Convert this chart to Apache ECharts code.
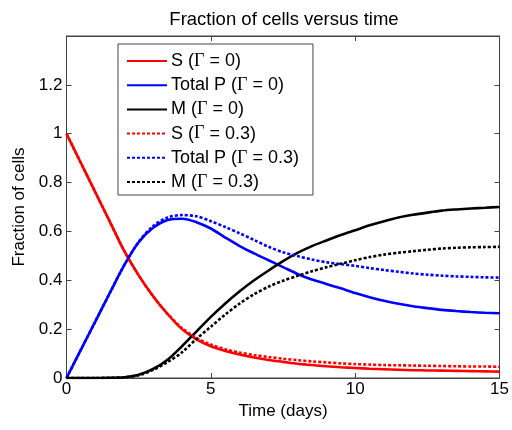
<!DOCTYPE html>
<html>
<head>
<meta charset="utf-8">
<script src="https://cdn.jsdelivr.net/npm/echarts@6/dist/echarts.min.js"></script>
<style>html,body{margin:0;padding:0;background:#fff}#c{width:512px;height:430px}</style>
</head>
<body>
<div id="c"></div>
<script>
var times = [0,0.5,1,1.5,2,2.5,3,3.5,4,4.5,5,5.5,6,6.5,7,7.5,8,8.5,9,9.5,10,10.5,11,11.5,12,12.5,13,13.5,14,14.5,15];
var S_g0 = [1.00,0.88,0.76,0.64,0.52,0.42,0.335,0.262,0.200,0.158,0.130,0.111,0.096,0.084,0.074,0.066,0.058,0.053,0.048,0.044,0.041,0.038,0.036,0.034,0.032,0.031,0.030,0.029,0.028,0.027,0.026];
var P_g0 = [0,0.116,0.232,0.348,0.462,0.556,0.615,0.647,0.652,0.638,0.612,0.575,0.540,0.510,0.482,0.454,0.426,0.403,0.385,0.367,0.348,0.331,0.316,0.304,0.294,0.286,0.279,0.274,0.270,0.267,0.265];
var M_g0 = [0,0,0,0.001,0.003,0.013,0.037,0.075,0.13,0.19,0.25,0.305,0.355,0.40,0.44,0.478,0.512,0.54,0.563,0.585,0.605,0.625,0.642,0.657,0.668,0.677,0.685,0.690,0.694,0.697,0.700];
var S_g3 = [1.00,0.88,0.76,0.64,0.52,0.42,0.335,0.263,0.204,0.164,0.137,0.118,0.104,0.094,0.086,0.079,0.073,0.068,0.064,0.060,0.057,0.055,0.053,0.052,0.051,0.050,0.049,0.048,0.047,0.047,0.046];
var P_g3 = [0,0.116,0.232,0.348,0.462,0.558,0.622,0.657,0.667,0.662,0.642,0.618,0.592,0.565,0.537,0.515,0.499,0.485,0.474,0.466,0.459,0.450,0.442,0.435,0.428,0.423,0.419,0.416,0.414,0.412,0.411];
var M_g3 = [0,0,0,0.001,0.003,0.011,0.033,0.065,0.105,0.160,0.21,0.26,0.305,0.343,0.374,0.398,0.418,0.437,0.453,0.468,0.482,0.495,0.505,0.513,0.519,0.525,0.530,0.533,0.535,0.536,0.537];
var xTicks = [0,5,10,15];
var yTicks = [0,0.2,0.4,0.6,0.8,1,1.2];
var names = ['S (Γ = 0)','Total P (Γ = 0)','M (Γ = 0)','S (Γ = 0.3)','Total P (Γ = 0.3)','M (Γ = 0.3)'];

function pairs(vals){ return times.map(function(t,i){ return [t, vals[i]]; }); }
var FONT = 'Liberation Sans, Arial, sans-serif';
var AX = '#444';
var sets = [S_g0,P_g0,M_g0,S_g3,P_g3,M_g3];
var cols = ['#ff0000','#0000ff','#000000','#ff0000','#0000ff','#000000'];
var series = sets.map(function(v,i){
  return {
    name: names[i], type:'line', data: pairs(v), symbol:'none', smooth:0.3,
    lineStyle:{color:cols[i], width:2.6, type: i<3 ? 'solid' : [3,2]},
    itemStyle:{color:cols[i]}, silent:true, animation:false, z: 2+i
  };
});
var chart = echarts.init(document.getElementById('c'), null, {renderer:'canvas'});
chart.setOption({
  animation:false,
  backgroundColor:'#fff',
  title:{text:'Fraction of cells versus time', left:279, top:5, textAlign:'center',
    textStyle:{fontFamily:FONT, fontSize:18.5, fontWeight:'normal', color:'#000'}},
  grid:{left:66.5, right:10.7, top:36, bottom:52, containLabel:false,
    show:true, borderColor:AX, borderWidth:1, backgroundColor:'transparent'},
  legend:{
    data:names, orient:'vertical', left:118, top:44,
    backgroundColor:'#fff', borderColor:AX, borderWidth:1,
    padding:[8,14,4,8], itemWidth:40, itemHeight:14, itemGap:6.2,
    itemStyle:{opacity:0, borderWidth:0},
    textStyle:{fontFamily:FONT, fontSize:18, color:'#000', lineHeight:18, padding:[0,0,0,-1],
      rich:{g:{fontFamily:'Liberation Serif, Times New Roman, serif', fontSize:18, lineHeight:18}}},
    formatter:function(n){ return n.replace('Γ','{g|Γ}'); }
  },
  xAxis:[{
    type:'value', min:0, max:15, interval:5, position:'bottom',
    name:'Time (days)', nameLocation:'middle', nameGap:22,
    nameTextStyle:{fontFamily:FONT, fontSize:17, color:'#000'},
    axisLine:{show:true, lineStyle:{color:AX, width:1}},
    axisTick:{show:true, inside:true, length:5, lineStyle:{color:AX}},
    axisLabel:{fontFamily:FONT, fontSize:17, color:'#000', margin:3,
      formatter:function(v){ return xTicks.indexOf(v)>=0 ? String(v) : ''; }},
    splitLine:{show:false}
  },{
    type:'value', min:0, max:15, interval:5, position:'top',
    axisLine:{show:true, onZero:false, lineStyle:{color:AX, width:1}},
    axisTick:{show:true, inside:true, length:5, lineStyle:{color:AX}},
    axisLabel:{show:false}, splitLine:{show:false}
  }],
  yAxis:[{
    type:'value', min:0, max:1.4, interval:0.2, position:'left',
    name:'Fraction of cells', nameLocation:'middle', nameGap:38, nameRotate:90,
    nameTextStyle:{fontFamily:FONT, fontSize:17, color:'#000'},
    axisLine:{show:true, lineStyle:{color:AX, width:1}},
    axisTick:{show:true, inside:true, length:5, lineStyle:{color:AX}},
    axisLabel:{fontFamily:FONT, fontSize:17, color:'#000', margin:4,
      formatter:function(v){ var r=Math.round(v*10)/10; return yTicks.indexOf(r)>=0 ? String(r) : ''; }},
    splitLine:{show:false}
  },{
    type:'value', min:0, max:1.4, interval:0.2, position:'right',
    axisLine:{show:true, onZero:false, lineStyle:{color:AX, width:1}},
    axisTick:{show:true, inside:true, length:5, lineStyle:{color:AX}},
    axisLabel:{show:false}, splitLine:{show:false}
  }],
  series: series
});
</script>
</body>
</html>
